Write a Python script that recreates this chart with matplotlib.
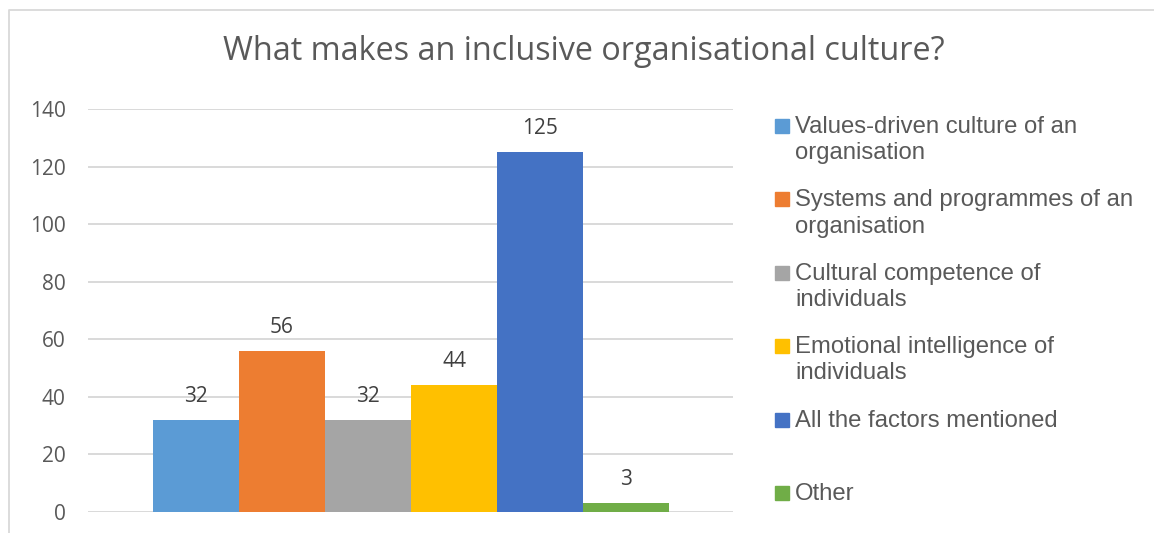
import matplotlib.pyplot as plt
from matplotlib.patches import Rectangle

# data
series_names = [
    "Values-driven culture of an\norganisation",
    "Systems and programmes of an\norganisation",
    "Cultural competence of\nindividuals",
    "Emotional intelligence of\nindividuals",
    "All the factors mentioned",
    "Other",
]
values = [32, 56, 32, 44, 125, 3]
colors = ["#5B9BD5", "#ED7D31", "#A5A5A5", "#FFC000", "#4472C4", "#70AD47"]
y_ticks = [0, 20, 40, 60, 80, 100, 120, 140]

W, H = 1154, 533
fig = plt.figure(figsize=(W / 100, H / 100), dpi=100)
txt_col = "#595959"

# outer chart frame (only left and top edges visible in the crop)
fig.lines.append(plt.Line2D([8.5 / W, 8.5 / W, 1.01], [-0.01, 1 - 9.5 / H, 1 - 9.5 / H],
                            transform=fig.transFigure, color="#D9D9D9", linewidth=1.3))

ax = fig.add_axes([88 / W, (H - 512) / H, (733 - 88) / W, (512 - 109) / H])
positions = list(range(len(values)))
bars = ax.bar(positions, values, width=1.0, color=colors, align="edge")
ax.set_xlim(-0.756, 6.744)
ax.set_ylim(0, 140)
ax.set_yticks(y_ticks)
ax.set_xticks([])
ax.yaxis.grid(True, color="#D9D9D9", linewidth=1.4)
ax.set_axisbelow(True)
for s in ax.spines.values():
    s.set_visible(False)
ax.tick_params(axis="y", length=0, pad=16, labelsize=15, labelcolor=txt_col)
for lab in ax.get_yticklabels():
    lab.set_fontfamily("Open Sans")

for b, v in zip(bars, values):
    ax.annotate(str(v), (b.get_x() + b.get_width() / 2, v),
                xytext=(0, 17), textcoords="offset points",
                ha="center", va="center", fontsize=15, color="#404040",
                family="Open Sans")

fig.text(584 / W, 1 - 52 / H, "What makes an inclusive organisational culture?",
         ha="center", va="center", fontsize=23.3, color=txt_col,
         family="Open Sans")

# legend drawn by hand so the marker sits on the first text line
y0, step = 126, 73.4
for i, (name, c) in enumerate(zip(series_names, colors)):
    yc = y0 + i * step
    fig.patches.append(Rectangle((775 / W, 1 - (yc + 7) / H), 14 / W, 14 / H,
                                 transform=fig.transFigure, color=c))
    fig.text(795 / W, 1 - (yc - 10) / H, name, ha="left", va="top",
             fontsize=17.2, color=txt_col, family=["Liberation Sans", "Arial", "DejaVu Sans"],
             linespacing=1.25)

fig.savefig("out.png", dpi=100)
